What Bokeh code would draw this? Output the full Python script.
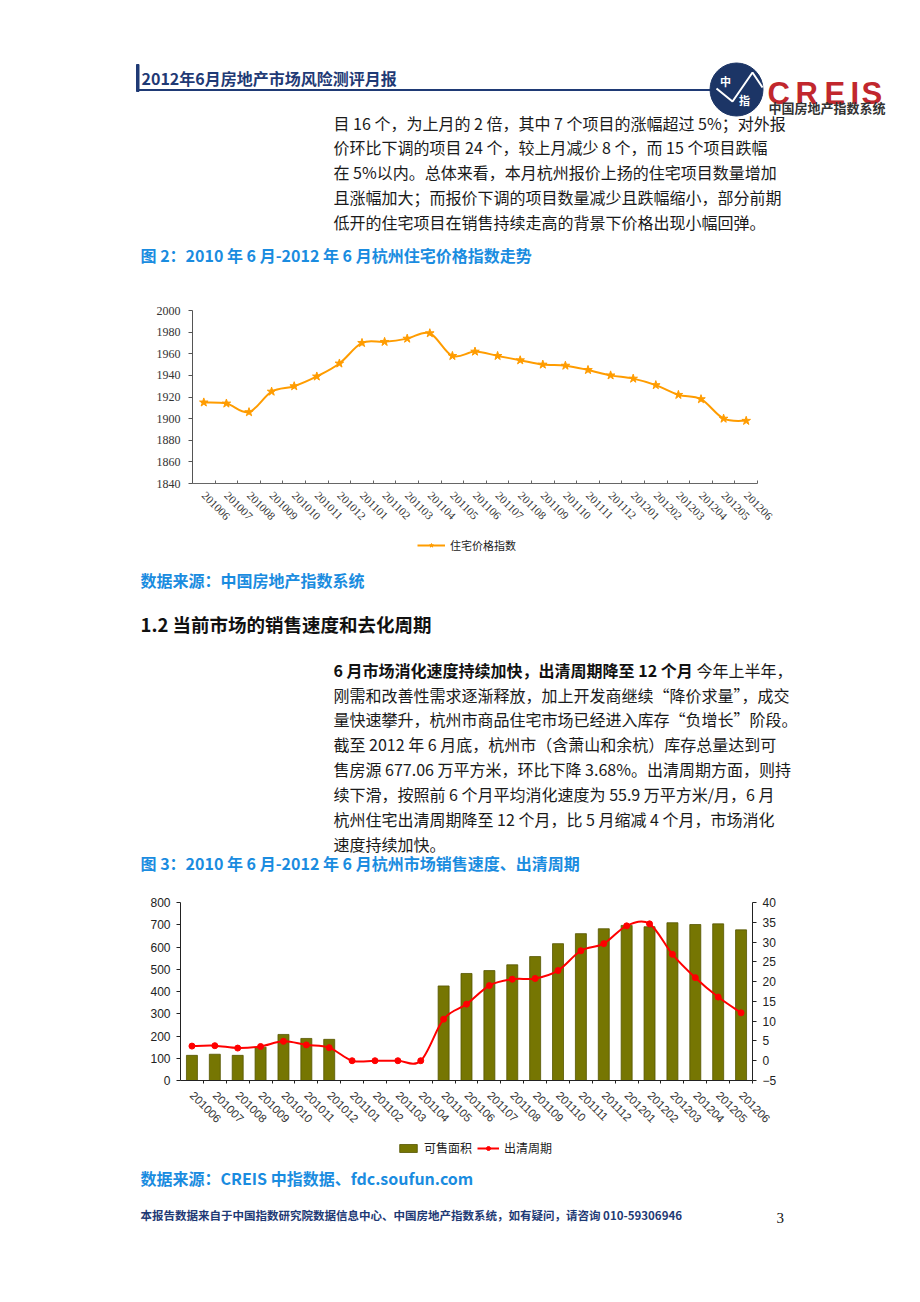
import numpy as np
from bokeh.plotting import figure
from bokeh.models import Range1d, LinearAxis, FixedTicker, Legend, LegendItem
from bokeh.layouts import column
from bokeh.embed import file_html
from bokeh.resources import INLINE
from bokeh.core.properties import value

# ---------------- data ----------------
months = ["201006", "201007", "201008", "201009", "201010", "201011", "201012",
          "201101", "201102", "201103", "201104", "201105", "201106", "201107",
          "201108", "201109", "201110", "201111", "201112", "201201", "201202",
          "201203", "201204", "201205", "201206"]
price_index = [1915, 1914, 1906, 1925, 1930, 1939, 1951, 1970, 1971, 1974, 1979,
               1958, 1962, 1958, 1954, 1950, 1949, 1945, 1940, 1937, 1931, 1922,
               1918, 1900, 1898]
price_ticks = [1840, 1860, 1880, 1900, 1920, 1940, 1960, 1980, 2000]

stock_area = [113, 118, 113, 150, 207, 189, 185, 0, 0, 0, 0, 425, 481, 494, 520,
              557, 615, 660, 682, 697, 691, 709, 701, 704, 677]
clear_cycle = [3.7, 3.8, 3.2, 3.6, 4.9, 4.0, 3.3, 0, 0, 0, 0, 10.5, 14.3, 19.0,
               20.6, 20.8, 22.8, 27.8, 29.6, 34.1, 34.6, 26.9, 21.0, 16.1, 12.1]
area_ticks = [0, 100, 200, 300, 400, 500, 600, 700, 800]
cycle_ticks = [-5, 0, 5, 10, 15, 20, 25, 30, 35, 40]

W = 904
CJK = "Noto Sans CJK SC"
BLUE = "#1a8ce0"
NAVY = "#1f3a75"
BODY = "#1a1a1a"
ORANGE = "#ff9c00"
OLIVE = "#767602"
RED = "#ff0000"


def page_fig(top, bottom, xr=(0, W), yr=None):
    p = figure(width=W, height=bottom - top, x_range=Range1d(*xr),
               y_range=Range1d(bottom, top) if yr is None else Range1d(*yr),
               output_backend="svg", toolbar_location=None, min_border=0,
               x_axis_location=None, y_axis_location=None)
    p.grid.visible = False
    p.outline_line_color = None
    p.background_fill_color = "white"
    p.border_fill_color = "white"
    return p


def txt(p, x, y, s, size, color=BODY, bold=False, font=CJK, align="left",
        baseline="middle"):
    p.text(x=[x], y=[y], text=[s], text_font=value(font),
           text_font_size=f"{size}px", text_color=color,
           text_font_style="bold" if bold else "normal",
           text_align=align, text_baseline=baseline)


def smooth(xs, ys):
    xs = np.asarray(xs, float)
    ys = np.asarray(ys, float)
    n = len(xs)
    qx = np.concatenate([[xs[0]], xs, [xs[-1]]])
    qy = np.concatenate([[ys[0]], ys, [ys[-1]]])
    return dict(
        x0=xs[:-1], y0=ys[:-1], x1=xs[1:], y1=ys[1:],
        cx0=qx[1:n] + (qx[2:n + 1] - qx[0:n - 1]) / 6,
        cy0=qy[1:n] + (qy[2:n + 1] - qy[0:n - 1]) / 6,
        cx1=qx[2:n + 1] - (qx[3:n + 2] - qx[1:n]) / 6,
        cy1=qy[2:n + 1] - (qy[3:n + 2] - qy[1:n]) / 6,
    )


def setup_xaxis(p, labels, font, size, tick_in, tick_out, color):
    n = len(labels)
    ax = p.xaxis[0]
    ax.ticker = FixedTicker(ticks=list(range(n)),
                            minor_ticks=[i + 0.5 for i in range(n)])
    ax.major_label_overrides = {i: m for i, m in enumerate(labels)}
    ax.major_tick_in = 0
    ax.major_tick_out = 0
    ax.minor_tick_in = tick_in
    ax.minor_tick_out = tick_out
    ax.minor_tick_line_color = color
    ax.axis_line_color = color
    ax.major_label_orientation = -np.pi / 4
    ax.major_label_text_font = font
    ax.major_label_text_font_size = size
    ax.major_label_text_color = "#333333"
    ax.major_label_standoff = 10


def legend_box(items, loc, size, glyph_width, spacing=0):
    return Legend(items=items, location=loc, orientation="horizontal",
                  border_line_color=None, background_fill_alpha=0, padding=0,
                  margin=0, spacing=spacing, glyph_width=glyph_width,
                  glyph_height=10, label_height=12, label_standoff=5,
                  label_text_font=CJK, label_text_font_size=size,
                  label_text_color="#222222")


n = len(months)
xc = np.arange(n)

# ---------------- header & first paragraph ----------------
A = page_fig(0, 290)
A.quad(left=[136], right=[138.5], top=[64], bottom=[91], color=NAVY)
A.segment(x0=[137], y0=[89.5], x1=[712], y1=[89.5], line_color=NAVY, line_width=2)
txt(A, 141, 77, "2012年6月房地产市场风险测评月报", 16, NAVY, bold=True)
A.circle(x=[736], y=[89], radius=26.5, fill_color="#1c3566", line_color="#1c3566")
A.line(x=[716, 732, 752, 762], y=[88, 101, 72, 87], line_color="white", line_width=2)
txt(A, 725, 80, "中", 11, "white", bold=True, align="center")
txt(A, 744, 99, "指", 11, "white", bold=True, align="center")
for ch, cx in zip("CREIS", [767, 795, 824, 850, 861]):
    txt(A, cx, 93, ch, 31, "#c1272d", bold=True, font="Liberation Sans",
        baseline="alphabetic")
txt(A, 768, 107, "中国房地产指数系统", 13, "#333333", bold=True)

para1 = ["目 16 个，为上月的 2 倍，其中 7 个项目的涨幅超过 5%；对外报",
         "价环比下调的项目 24 个，较上月减少 8 个，而 15 个项目跌幅",
         "在 5%以内。总体来看，本月杭州报价上扬的住宅项目数量增加",
         "且涨幅加大；而报价下调的项目数量减少且跌幅缩小，部分前期",
         "低开的住宅项目在销售持续走高的背景下价格出现小幅回弹。"]
for i, line in enumerate(para1):
    txt(A, 333, 122 + 24.8 * i, line, 16)
txt(A, 140, 254, "图 2：2010 年 6 月-2012 年 6 月杭州住宅价格指数走势", 16, BLUE, bold=True)

# ---------------- chart 1 ----------------
p1 = figure(width=W, height=241, x_range=Range1d(-0.5, n - 0.5),
            y_range=Range1d(1840, 2000), output_backend="svg",
            toolbar_location=None, min_border_left=192, min_border_right=147,
            min_border_top=20, min_border_bottom=48)
p1.grid.visible = False
p1.outline_line_color = None
setup_xaxis(p1, months, "Liberation Serif", "11.5px", 3, 0, "#666666")
yax = p1.yaxis[0]
yax.ticker = FixedTicker(ticks=price_ticks, minor_ticks=[])
yax.major_tick_in = 0
yax.major_tick_out = 4
yax.axis_line_color = "#555555"
yax.major_tick_line_color = "#555555"
yax.major_label_text_font = "Liberation Serif"
yax.major_label_text_font_size = "12px"
yax.major_label_text_color = "#333333"
yax.major_label_standoff = 8

p1.bezier(**smooth(xc, price_index), line_color=ORANGE, line_width=2)
p1.scatter(x=xc, y=price_index, marker="star", size=9,
           fill_color=ORANGE, line_color=ORANGE)

# legend strip for chart 1 (its renderers lie outside the strip's ranges)
L1 = page_fig(531, 560, xr=(-100, -99), yr=(-100, -99))
l1_line = L1.line(x=xc, y=price_index, line_color=ORANGE, line_width=2)
l1_pts = L1.scatter(x=xc, y=price_index, marker="star", size=9,
                    fill_color=ORANGE, line_color=ORANGE)
L1.add_layout(legend_box([LegendItem(label="住宅价格指数",
                                     renderers=[l1_line, l1_pts])],
                         (417, 7), "11px", 28))

# ---------------- middle text ----------------
C = page_fig(560, 885)
txt(C, 140, 579, "数据来源：中国房地产指数系统", 16, BLUE, bold=True)
txt(C, 140, 623, "1.2 当前市场的销售速度和去化周期", 18.5, "#111111", bold=True)
txt(C, 333, 669, "6 月市场消化速度持续加快，出清周期降至 12 个月", 16, "#111111", bold=True)
txt(C, 696, 669, "今年上半年，", 16)
para2 = ["刚需和改善性需求逐渐释放，加上开发商继续“降价求量”，成交",
         "量快速攀升，杭州市商品住宅市场已经进入库存“负增长”阶段。",
         "截至 2012 年 6 月底，杭州市（含萧山和余杭）库存总量达到可",
         "售房源 677.06 万平方米，环比下降 3.68%。出清周期方面，则持",
         "续下滑，按照前 6 个月平均消化速度为 55.9 万平方米/月，6 月",
         "杭州住宅出清周期降至 12 个月，比 5 月缩减 4 个月，市场消化",
         "速度持续加快。"]
for i, line in enumerate(para2):
    txt(C, 333, 694 + 24.9 * i, line, 16)
txt(C, 140, 862, "图 3：2010 年 6 月-2012 年 6 月杭州市场销售速度、出清周期", 16, BLUE, bold=True)

# ---------------- chart 2 ----------------
p2 = figure(width=W, height=244, x_range=Range1d(-0.5, n - 0.5),
            y_range=Range1d(0, 800), output_backend="svg",
            toolbar_location=None, min_border_left=180, min_border_right=152,
            min_border_top=17, min_border_bottom=48)
p2.extra_y_ranges = {"right": Range1d(-5, 40)}
p2.grid.visible = False
p2.outline_line_color = None
setup_xaxis(p2, months, "Liberation Sans", "11.5px", 0, 3, "#222222")
p2.yaxis[0].ticker = FixedTicker(ticks=area_ticks, minor_ticks=[])
rax = LinearAxis(y_range_name="right",
                 ticker=FixedTicker(ticks=cycle_ticks, minor_ticks=[]))
p2.add_layout(rax, "right")
for ax in (p2.yaxis[0], rax):
    ax.major_tick_in = 0
    ax.major_tick_out = 4
    ax.axis_line_color = "#222222"
    ax.major_tick_line_color = "#222222"
    ax.major_label_text_font = "Liberation Sans"
    ax.major_label_text_font_size = "12px"
    ax.major_label_text_color = "#222222"
    ax.major_label_standoff = 6

p2.vbar(x=xc, top=stock_area, bottom=0, width=0.48, fill_color=OLIVE,
        line_color="#565600", line_width=0.8)
p2.bezier(**smooth(xc, clear_cycle), line_color=RED, line_width=2,
          y_range_name="right")
p2.scatter(x=xc, y=clear_cycle, marker="circle", size=6, fill_color=RED,
           line_color=RED, y_range_name="right")

# legend strip for chart 2
L2 = page_fig(1129, 1166, xr=(-100, -99), yr=(-100, -99))
l2_bar = L2.vbar(x=xc, top=stock_area, bottom=0, width=0.48, fill_color=OLIVE,
                 line_color="#565600", line_width=0.8)
l2_line = L2.line(x=xc, y=clear_cycle, line_color=RED, line_width=2)
l2_pts = L2.scatter(x=xc, y=clear_cycle, marker="circle", size=6,
                    fill_color=RED, line_color=RED)
L2.add_layout(legend_box([LegendItem(label="可售面积", renderers=[l2_bar]),
                          LegendItem(label="出清周期", renderers=[l2_line, l2_pts])],
                         (397, 10), "12px", 22, spacing=5))

# ---------------- footer ----------------
E = page_fig(1166, 1300)
txt(E, 140, 1177, "数据来源：CREIS 中指数据、fdc.soufun.com", 16, BLUE, bold=True)
txt(E, 140, 1214, "本报告数据来自于中国指数研究院数据信息中心、中国房地产指数系统，如有疑问，请咨询 010-59306946",
    11.5, NAVY, bold=True)
txt(E, 776, 1217, "3", 15, "#111111", font="Liberation Serif")

# each figure in its own box so that frames are not aligned across figures
page = column(*[column(f, spacing=0) for f in (A, p1, L1, C, p2, L2, E)],
              spacing=0)
open("out.html", "w").write(file_html(page, INLINE))
